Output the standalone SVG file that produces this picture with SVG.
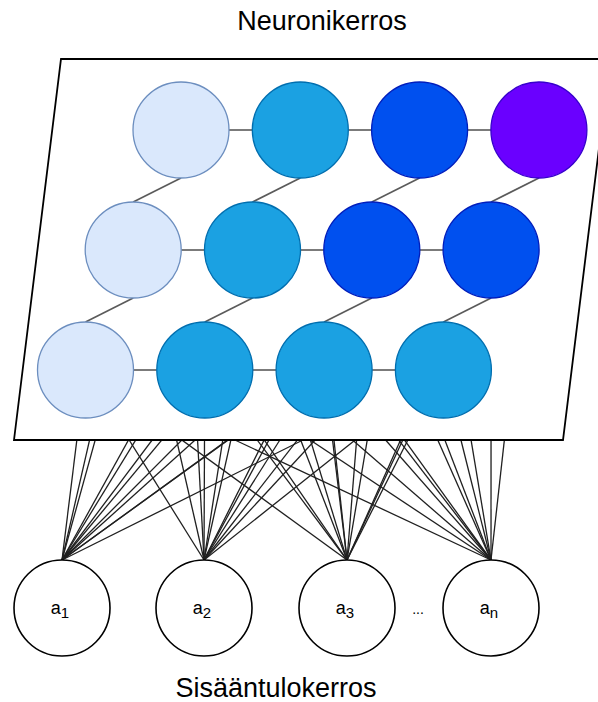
<svg xmlns="http://www.w3.org/2000/svg" width="598" height="702" viewBox="0 0 598 702">
  <style>
    .lbl { font-family: "Liberation Sans", Arial, sans-serif; fill: #000; }
    .title { font-size: 27px; text-anchor: middle; }
    .wire { stroke: #202020; stroke-width: 1.3; fill: none; }
    .link { stroke: #5a5a5a; stroke-width: 1.6; fill: none; }
    .input { fill: #fff; stroke: #000; stroke-width: 1.6; }
    .light { fill: #dae8fc; stroke: #6c8ebf; stroke-width: 1.3; }
    .cyan { fill: #1ba1e2; stroke: #006eaf; stroke-width: 1.3; }
    .blue { fill: #0050ef; stroke: #001dbc; stroke-width: 1.3; }
    .violet { fill: #6a00ff; stroke: #3700cc; stroke-width: 1.3; }
    .sym { font-size: 18px; text-anchor: middle; }
    .sub { font-size: 15px; }
  </style>

  <!-- input-to-neuron wires; they run under the layer panel, so only the part below it shows -->
  <g id="connectors">
    <!-- from a1 -->
    <line class="wire" x1="62" y1="560" x2="85.5" y2="370"/>
    <line class="wire" x1="62" y1="560" x2="204.8" y2="370"/>
    <line class="wire" x1="62" y1="560" x2="324.1" y2="370"/>
    <line class="wire" x1="62" y1="560" x2="443.4" y2="370"/>
    <line class="wire" x1="62" y1="560" x2="133.2" y2="250"/>
    <line class="wire" x1="62" y1="560" x2="252.5" y2="250"/>
    <line class="wire" x1="62" y1="560" x2="371.8" y2="250"/>
    <line class="wire" x1="62" y1="560" x2="491.1" y2="250"/>
    <line class="wire" x1="62" y1="560" x2="181" y2="130"/>
    <line class="wire" x1="62" y1="560" x2="300.3" y2="130"/>
    <line class="wire" x1="62" y1="560" x2="419.6" y2="130"/>
    <line class="wire" x1="62" y1="560" x2="538.9" y2="130"/>
    <!-- from a2 -->
    <line class="wire" x1="204" y1="560" x2="85.5" y2="370"/>
    <line class="wire" x1="204" y1="560" x2="204.8" y2="370"/>
    <line class="wire" x1="204" y1="560" x2="324.1" y2="370"/>
    <line class="wire" x1="204" y1="560" x2="443.4" y2="370"/>
    <line class="wire" x1="204" y1="560" x2="133.2" y2="250"/>
    <line class="wire" x1="204" y1="560" x2="252.5" y2="250"/>
    <line class="wire" x1="204" y1="560" x2="371.8" y2="250"/>
    <line class="wire" x1="204" y1="560" x2="491.1" y2="250"/>
    <line class="wire" x1="204" y1="560" x2="181" y2="130"/>
    <line class="wire" x1="204" y1="560" x2="300.3" y2="130"/>
    <line class="wire" x1="204" y1="560" x2="419.6" y2="130"/>
    <line class="wire" x1="204" y1="560" x2="538.9" y2="130"/>
    <!-- from a3 -->
    <line class="wire" x1="347" y1="560" x2="85.5" y2="370"/>
    <line class="wire" x1="347" y1="560" x2="204.8" y2="370"/>
    <line class="wire" x1="347" y1="560" x2="324.1" y2="370"/>
    <line class="wire" x1="347" y1="560" x2="443.4" y2="370"/>
    <line class="wire" x1="347" y1="560" x2="133.2" y2="250"/>
    <line class="wire" x1="347" y1="560" x2="252.5" y2="250"/>
    <line class="wire" x1="347" y1="560" x2="371.8" y2="250"/>
    <line class="wire" x1="347" y1="560" x2="491.1" y2="250"/>
    <line class="wire" x1="347" y1="560" x2="181" y2="130"/>
    <line class="wire" x1="347" y1="560" x2="300.3" y2="130"/>
    <line class="wire" x1="347" y1="560" x2="419.6" y2="130"/>
    <line class="wire" x1="347" y1="560" x2="538.9" y2="130"/>
    <!-- from an -->
    <line class="wire" x1="491" y1="560" x2="85.5" y2="370"/>
    <line class="wire" x1="491" y1="560" x2="204.8" y2="370"/>
    <line class="wire" x1="491" y1="560" x2="324.1" y2="370"/>
    <line class="wire" x1="491" y1="560" x2="443.4" y2="370"/>
    <line class="wire" x1="491" y1="560" x2="133.2" y2="250"/>
    <line class="wire" x1="491" y1="560" x2="252.5" y2="250"/>
    <line class="wire" x1="491" y1="560" x2="371.8" y2="250"/>
    <line class="wire" x1="491" y1="560" x2="491.1" y2="250"/>
    <line class="wire" x1="491" y1="560" x2="181" y2="130"/>
    <line class="wire" x1="491" y1="560" x2="300.3" y2="130"/>
    <line class="wire" x1="491" y1="560" x2="419.6" y2="130"/>
    <line class="wire" x1="491" y1="560" x2="538.9" y2="130"/>
  </g>

  <!-- neuron layer panel -->
  <g id="layer">
    <polygon points="61,59 610,59 563,440 14,440" fill="#fff" stroke="#000" stroke-width="1.8"/>
  </g>

  <!-- links between neighbouring neurons -->
  <g id="neuron-links">
    <line class="link" x1="229" y1="130" x2="252.3" y2="130"/>
    <line class="link" x1="348.3" y1="130" x2="371.6" y2="130"/>
    <line class="link" x1="467.6" y1="130" x2="490.9" y2="130"/>
    <line class="link" x1="181.2" y1="250" x2="204.5" y2="250"/>
    <line class="link" x1="300.5" y1="250" x2="323.8" y2="250"/>
    <line class="link" x1="419.8" y1="250" x2="443.1" y2="250"/>
    <line class="link" x1="133.5" y1="370" x2="156.8" y2="370"/>
    <line class="link" x1="252.8" y1="370" x2="276.1" y2="370"/>
    <line class="link" x1="372.1" y1="370" x2="395.4" y2="370"/>
    <line class="link" x1="181" y1="178" x2="133.2" y2="202"/>
    <line class="link" x1="300.3" y1="178" x2="252.5" y2="202"/>
    <line class="link" x1="419.6" y1="178" x2="371.8" y2="202"/>
    <line class="link" x1="538.9" y1="178" x2="491.1" y2="202"/>
    <line class="link" x1="133.2" y1="298" x2="85.5" y2="322"/>
    <line class="link" x1="252.5" y1="298" x2="204.8" y2="322"/>
    <line class="link" x1="371.8" y1="298" x2="324.1" y2="322"/>
    <line class="link" x1="491.1" y1="298" x2="443.4" y2="322"/>
  </g>

  <!-- neurons, top row -->
  <g id="n-1-1"><circle class="light" cx="181" cy="130" r="48"/></g>
  <g id="n-1-2"><circle class="cyan" cx="300.3" cy="130" r="48"/></g>
  <g id="n-1-3"><circle class="blue" cx="419.6" cy="130" r="48"/></g>
  <g id="n-1-4"><circle class="violet" cx="538.9" cy="130" r="48"/></g>
  <!-- middle row -->
  <g id="n-2-1"><circle class="light" cx="133.2" cy="250" r="48"/></g>
  <g id="n-2-2"><circle class="cyan" cx="252.5" cy="250" r="48"/></g>
  <g id="n-2-3"><circle class="blue" cx="371.8" cy="250" r="48"/></g>
  <g id="n-2-4"><circle class="blue" cx="491.1" cy="250" r="48"/></g>
  <!-- bottom row -->
  <g id="n-3-1"><circle class="light" cx="85.5" cy="370" r="48"/></g>
  <g id="n-3-2"><circle class="cyan" cx="204.8" cy="370" r="48"/></g>
  <g id="n-3-3"><circle class="cyan" cx="324.1" cy="370" r="48"/></g>
  <g id="n-3-4"><circle class="cyan" cx="443.4" cy="370" r="48"/></g>

  <!-- input nodes -->
  <g id="in-a1">
    <circle class="input" cx="62" cy="608" r="48"/>
    <text class="lbl sym" x="60" y="614">a<tspan class="sub" dy="4">1</tspan></text>
  </g>
  <g id="in-a2">
    <circle class="input" cx="204" cy="608" r="48"/>
    <text class="lbl sym" x="202" y="614">a<tspan class="sub" dy="4">2</tspan></text>
  </g>
  <g id="in-a3">
    <circle class="input" cx="347" cy="608" r="48"/>
    <text class="lbl sym" x="345" y="614">a<tspan class="sub" dy="4">3</tspan></text>
  </g>
  <g id="in-an">
    <circle class="input" cx="491" cy="608" r="48"/>
    <text class="lbl sym" x="489" y="614">a<tspan class="sub" dy="4">n</tspan></text>
  </g>
  <text class="lbl" x="418" y="614" font-size="14" text-anchor="middle">...</text>

  <!-- layer titles -->
  <text class="lbl title" x="322" y="30">Neuronikerros</text>
  <text class="lbl title" x="276" y="697">Sisääntulokerros</text>
</svg>
